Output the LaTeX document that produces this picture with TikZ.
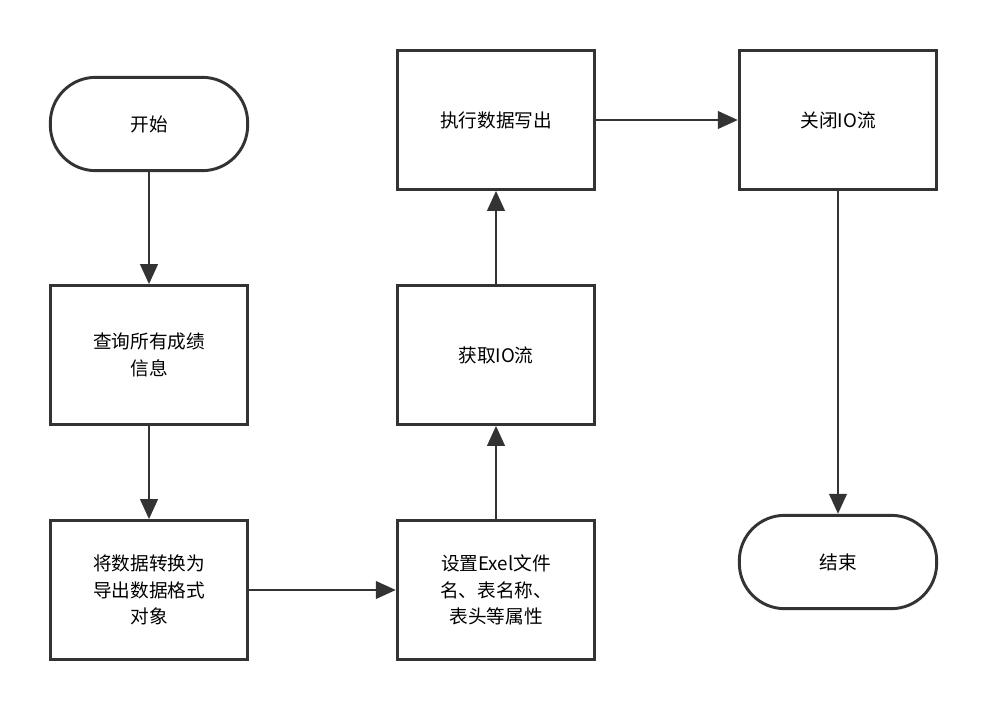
\documentclass[tikz,border=0pt]{standalone}
\usepackage{fontspec}
\setmainfont{Noto Sans CJK SC}
\usetikzlibrary{arrows.meta}

\tikzset{
  box/.style={draw=black!80,line width=2.2pt,minimum width=148pt,minimum height=104pt,
    align=center,font=\fontsize{14}{20}\selectfont,text width=120pt},
  term/.style={box,rounded corners=34pt,minimum height=70pt},
  flow/.style={draw=black!80,line width=2.2pt,-{Triangle[length=15pt,width=13pt]}}
}

\begin{document}
\begin{tikzpicture}[x=0.75pt,y=-0.75pt]
    \useasboundingbox (0,0) rectangle (988,710);
    \node[term] (start)  at (149,124) {开始};
    \node[box]  (query)  at (149,355) {查询所有成绩\\信息};
    \node[box]  (conv)   at (149,590) {将数据转换为\\导出数据格式\\对象};
    \node[box]  (setup)  at (496,590) {设置Exel文件\\名、表名称、\\表头等属性};
    \node[box]  (getio)  at (496,355) {获取IO流};
    \node[box]  (write)  at (496,120) {执行数据写出};
    \node[box]  (close)  at (838,120) {关闭IO流};
    \node[term] (finish) at (838,562) {结束};

    \draw[flow] (start) -- (query);
    \draw[flow] (query) -- (conv);
    \draw[flow] (conv) -- (setup);
    \draw[flow] (setup) -- (getio);
    \draw[flow] (getio) -- (write);
    \draw[flow] (write) -- (close);
    \draw[flow] (close) -- (finish);
\end{tikzpicture}
\end{document}
